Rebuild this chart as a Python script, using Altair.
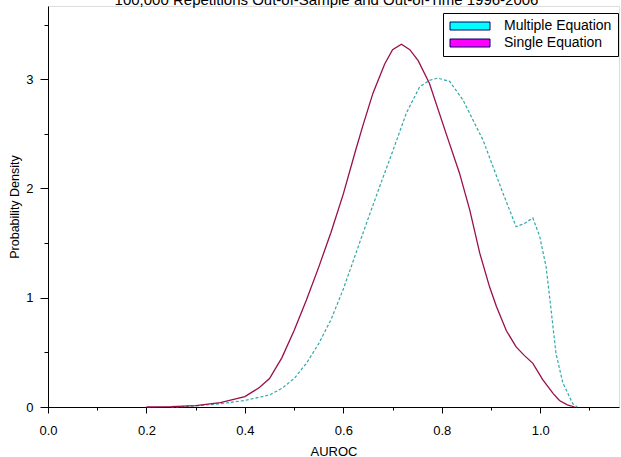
import altair as alt
import pandas as pd

# Single Equation density
single_x = [0.20, 0.25, 0.30, 0.35, 0.40, 0.43, 0.45, 0.475, 0.50, 0.525, 0.55, 0.575, 0.60, 0.625,
            0.64, 0.66, 0.684, 0.70, 0.718, 0.735, 0.752, 0.775, 0.809, 0.836, 0.857, 0.877, 0.897,
            0.911, 0.931, 0.951, 0.968, 0.985, 1.005, 1.026, 1.039, 1.055, 1.07]
single_y = [0.0, 0.003, 0.012, 0.04, 0.095, 0.18, 0.26, 0.45, 0.70, 0.98, 1.28, 1.60, 1.95, 2.35,
            2.58, 2.87, 3.14, 3.27, 3.32, 3.27, 3.17, 2.96, 2.50, 2.14, 1.80, 1.41, 1.10,
            0.92, 0.70, 0.55, 0.47, 0.40, 0.25, 0.125, 0.06, 0.02, 0.0]

# Multiple Equation density
multi_x = [0.25, 0.30, 0.35, 0.40, 0.45, 0.475, 0.50, 0.525, 0.55, 0.575, 0.60, 0.625, 0.65, 0.674,
           0.701, 0.728, 0.755, 0.775, 0.792, 0.816, 0.843, 0.863, 0.884, 0.904, 0.924, 0.951,
           0.968, 0.985, 0.999, 1.012, 1.022, 1.032, 1.046, 1.066, 1.075]
multi_y = [0.0, 0.01, 0.03, 0.06, 0.11, 0.17, 0.26, 0.40, 0.58, 0.80, 1.08, 1.40, 1.72, 2.02,
           2.35, 2.69, 2.93, 2.99, 3.01, 2.98, 2.81, 2.63, 2.44, 2.20, 1.96, 1.65,
           1.68, 1.73, 1.56, 1.28, 0.89, 0.49, 0.22, 0.03, 0.0]

series_names = ["Multiple Equation", "Single Equation"]
line_colors = ["#2fa8a8", "#990f4b"]
legend_fills = ["#00ffff", "#ff00ff"]
x_ticks = [round(i * 0.1, 1) for i in range(12)]
y_ticks = [i * 0.5 for i in range(8)]

df = pd.concat([
    pd.DataFrame({"x": multi_x, "y": multi_y, "series": series_names[0], "order": range(len(multi_x))}),
    pd.DataFrame({"x": single_x, "y": single_y, "series": series_names[1], "order": range(len(single_x))}),
])

FONT = "Liberation Sans"

xscale = alt.Scale(domain=[0, 1.16], nice=False, zero=False)
yscale = alt.Scale(domain=[0, 3.67], nice=False)

xaxis = alt.Axis(
    values=x_ticks, title="AUROC", grid=False,
    labelExpr="round(datum.value*10) % 2 == 0 ? format(datum.value, '.1f') : ''",
    tickSize={"condition": {"test": "round(datum.value*10) % 2 == 0", "value": 6}, "value": 3},
    labelPadding=11, titlePadding=8, labelFontSize=13, titleFontSize=13,
    labelFont=FONT, titleFont=FONT, titleFontWeight="normal",
    domainColor="black", tickColor="black", labelColor="black", titleColor="black",
    labelFlush=False,
)
yaxis = alt.Axis(
    values=y_ticks, title="Probability Density", grid=False,
    labelExpr="datum.value % 1 == 0 ? format(datum.value, 'd') : ''",
    tickSize={"condition": {"test": "datum.value % 1 == 0", "value": 8}, "value": 4},
    labelPadding=7, titlePadding=4, labelFontSize=13, titleFontSize=12.5,
    labelFont=FONT, titleFont=FONT, titleFontWeight="normal",
    domainColor="black", tickColor="black", labelColor="black", titleColor="black",
    labelFlush=False,
)

base = alt.Chart(df)

multi_line = base.transform_filter(alt.datum.series == series_names[0]).mark_line(
    strokeDash=[3, 2], strokeWidth=1.2, color=line_colors[0]
).encode(
    x=alt.X("x:Q", scale=xscale, axis=xaxis),
    y=alt.Y("y:Q", scale=yscale, axis=yaxis),
    order="order:Q",
)

single_line = base.transform_filter(alt.datum.series == series_names[1]).mark_line(
    strokeWidth=1.3, color=line_colors[1]
).encode(
    x=alt.X("x:Q", scale=xscale, axis=xaxis),
    y=alt.Y("y:Q", scale=yscale, axis=yaxis),
    order="order:Q",
)

legend_layer = base.transform_filter("false").mark_point(filled=True, opacity=1).encode(
    x=alt.X("x:Q", scale=xscale, axis=xaxis),
    y=alt.Y("y:Q", scale=yscale, axis=yaxis),
    fill=alt.Fill(
        "series:N",
        scale=alt.Scale(domain=series_names, range=legend_fills),
        legend=alt.Legend(
            title=None, orient="none", legendX=395, legendY=7,
            symbolType="M-5,-1H5V1H-5Z", symbolSize=64, symbolOffset=14,
            symbolStrokeColor="#000066", symbolStrokeWidth=1,
            labelFont=FONT, labelFontSize=14, labelColor="black",
            labelOffset=27, rowPadding=3, padding=6,
            strokeColor="black", fillColor="white", cornerRadius=0,
        ),
    ),
)

chart = alt.layer(multi_line, single_line, legend_layer).properties(
    width=571, height=401,
    title=alt.Title(
        "100,000 Repetitions Out-of-Sample and Out-of-Time 1996-2006",
        font=FONT, fontSize=15, fontWeight="normal", color="black",
        anchor="middle", baseline="alphabetic", offset=0, dy=14, dx=-7,
    ),
    autosize="none",
    padding={"left": 48, "top": 6, "right": 2, "bottom": 50},
).configure_view(stroke="black", strokeWidth=1).configure(background="white")

chart.save("out.html", embed_options={"renderer": "svg", "actions": False})
